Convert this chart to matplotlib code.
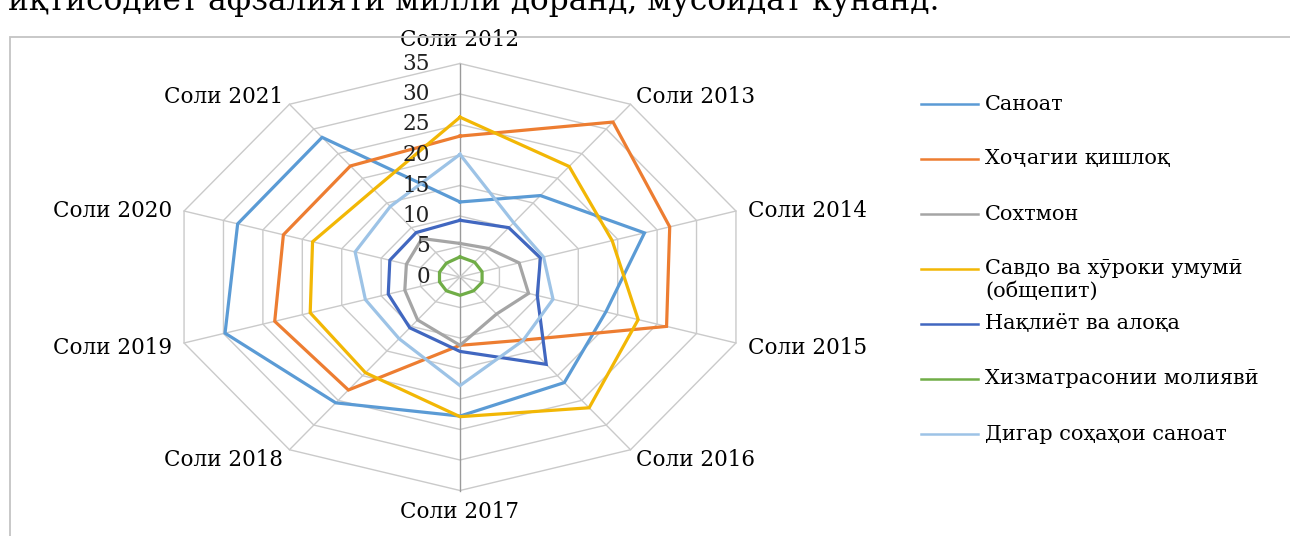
import numpy as np
import matplotlib
matplotlib.use("Agg")
import matplotlib.pyplot as plt
from matplotlib.lines import Line2D
from matplotlib.patches import Rectangle

# ---------------- data ----------------
years = ['Соли 2012', 'Соли 2013', 'Соли 2014', 'Соли 2015', 'Соли 2016',
         'Соли 2017', 'Соли 2018', 'Соли 2019', 'Соли 2020', 'Соли 2021']

sanoat      = [12.3, 16.5, 23.4, 18.5, 21.4, 22.8, 25.5, 29.8, 28.2, 28.3]
khojagi     = [23.1, 31.4, 26.6, 26.2, 12.8, 11.2, 22.9, 23.5, 22.4, 22.5]
sokhtmon    = [5.5, 5.8, 7.5, 8.7, 7.5, 11.2, 8.7, 7.0, 6.8, 7.8]
savdo       = [26.2, 22.4, 19.3, 22.6, 26.5, 22.9, 19.4, 19.0, 18.7, 17.7]
naqliyot    = [9.3, 10.0, 10.2, 9.8, 17.7, 12.2, 10.3, 9.1, 8.9, 9.0]
moliyavi    = [3.3, 3.0, 2.8, 2.8, 2.8, 3.0, 2.8, 2.6, 2.6, 2.8]
digar       = [20.1, 11.0, 10.6, 11.8, 12.9, 17.8, 12.5, 12.0, 13.3, 14.3]

series_names = ['Саноат', 'Хоҷагии қишлоқ', 'Сохтмон',
                'Савдо ва хӯроки умумӣ\n(общепит)', 'Нақлиёт ва алоқа',
                'Хизматрасонии молиявӣ', 'Дигар соҳаҳои саноат']
series_values = [sanoat, khojagi, sokhtmon, savdo, naqliyot, moliyavi, digar]
series_colors = ['#5B9BD5', '#ED7D31', '#A5A5A5', '#F2B705', '#4167C0',
                 '#70AD47', '#9DC3E6']

r_ticks = [0, 5, 10, 15, 20, 25, 30, 35]
r_max = 35

top_text = 'иқтисодиёт афзалияти миллӣ доранд, мусоидат кунанд.'

# ---------------- figure ----------------
W, H, DPI = 1290, 536, 100
fig = plt.figure(figsize=(W / DPI, H / DPI), dpi=DPI)
FONT = ['DejaVu Serif']

def px2pt(p):
    return p * 72.0 / DPI

# frame of the chart area
fig.add_artist(Rectangle((10 / W, -0.1), 1.2, (1 - 37 / H) + 0.1,
                         transform=fig.transFigure, fill=False,
                         ec='#c4c4c4', lw=1.3))
# text line above the chart (cut by the page edge, as in the source)
fig.text(8 / W, 1 - 10 / H, top_text, ha='left', va='baseline',
         fontsize=22.5, family=FONT, color='black')

# axes laid out so that the radar is stretched as in the reference
cx, cy = 460, 277            # centre in pixels (from top)
sx, sy = 8.29, 6.1           # pixels per unit
half_w, half_h = 300, 232
ax = fig.add_axes([(cx - half_w) / W, (H - cy - half_h) / H,
                   2 * half_w / W, 2 * half_h / H])
ax.set_xlim(-half_w / sx, half_w / sx)
ax.set_ylim(-half_h / sy, half_h / sy)
ax.axis('off')

n = len(years)
theta = np.deg2rad(np.arange(n) * 360.0 / n)
theta_c = np.append(theta, theta[0])

# grid rings
for r in r_ticks[1:]:
    ax.plot(r * np.sin(theta_c), r * np.cos(theta_c), color='#cacaca',
            lw=1.0, zorder=1)
# spokes
for i, t in enumerate(theta):
    col = '#9a9a9a' if i in (0, n // 2) else '#cacaca'
    ax.plot([0, r_max * np.sin(t)], [0, r_max * np.cos(t)], color=col,
            lw=1.0, zorder=1)

# series
for vals, col in zip(series_values, series_colors):
    v = np.append(np.array(vals), vals[0])
    ax.plot(v * np.sin(theta_c), v * np.cos(theta_c), color=col, lw=2.3,
            zorder=3, solid_joinstyle='miter')

# radial tick labels
for r in r_ticks:
    ax.annotate(str(r), xy=(0, r), xytext=(px2pt(-30), 0),
                textcoords='offset points', ha='right', va='center',
                fontsize=15.5, family=FONT, color='#222222', zorder=4)

# category labels
label_off = [(0, 23, 'center'), (5, 7, 'left'), (12, 0, 'left'),
             (12, -5, 'left'), (5, -10, 'left'), (0, -22, 'center'),
             (-6, -10, 'right'), (-12, -5, 'right'), (-12, 0, 'right'),
             (-6, 7, 'right')]
for t, name, (dx, dy, ha) in zip(theta, years, label_off):
    ax.annotate(name, xy=(r_max * np.sin(t), r_max * np.cos(t)),
                xytext=(px2pt(dx), px2pt(dy)), textcoords='offset points',
                ha=ha, va='center', fontsize=15.5, family=FONT,
                color='black', annotation_clip=False)

# legend (drawn manually, Excel-style)
leg_x0, leg_x1, leg_tx = 921, 978, 985
leg_y0, leg_dy = 104, 55
for i, (name, col) in enumerate(zip(series_names, series_colors)):
    ypx = leg_y0 + i * leg_dy
    yf = 1 - ypx / H
    fig.add_artist(Line2D([leg_x0 / W, leg_x1 / W], [yf, yf],
                          transform=fig.transFigure, color=col, lw=1.8))
    for j, line in enumerate(name.split('\n')):
        fig.text(leg_tx / W, 1 - (ypx + j * 22) / H, line, ha='left',
                 va='center', fontsize=15, family=FONT, color='black')

fig.savefig('out.png', dpi=DPI)
